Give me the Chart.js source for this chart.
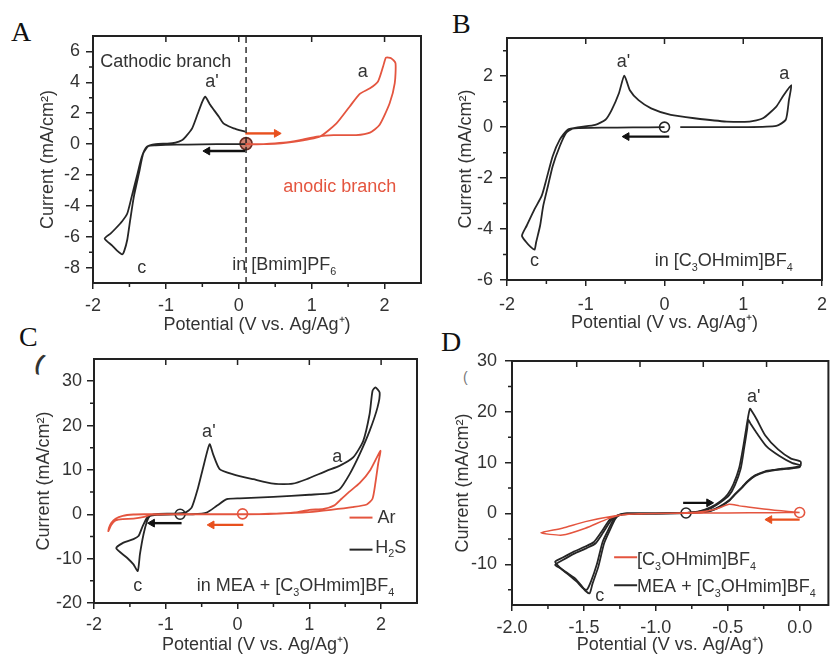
<!DOCTYPE html>
<html><head><meta charset="utf-8">
<script src="https://cdn.jsdelivr.net/npm/chart.js@4.4.1/dist/chart.umd.min.js"></script>
<style>
body{margin:0;width:830px;height:657px;overflow:hidden;background:#fff;position:relative}
canvas{position:absolute}
.let{position:absolute;font-family:'Liberation Serif','Times New Roman',serif;font-size:28px;line-height:28px;color:#111}
.art{position:absolute;font-family:'Liberation Sans',Arial,sans-serif;font-weight:bold;color:#333}
</style></head><body>
<div class="let" style="left:11px;top:18px">A</div>
<div class="let" style="left:452px;top:10px">B</div>
<div class="let" style="left:19px;top:323px">C</div>
<div class="let" style="left:441px;top:328px">D</div>
<div class="art" style="left:36px;top:352px;font-size:22px;line-height:22px;transform:rotate(20deg)">(</div>
<div class="art" style="left:463px;top:370px;font-size:14px;line-height:14px;color:#777;font-weight:normal">(</div>
<canvas id="cA" width="445" height="340" style="left:0;top:0"></canvas>
<canvas id="cB" width="420" height="340" style="left:415px;top:0"></canvas>
<canvas id="cC" width="440" height="327" style="left:0;top:330px"></canvas>
<canvas id="cD" width="415" height="327" style="left:420px;top:330px"></canvas>
<script>
// ---------- DATA ----------
// Panel A  (in [Bmim]PF6)
const A_cath_V = [0.1,-0.3,-0.7,-1.0,-1.14,-1.24,-1.31,-1.37,-1.44,-1.49,-1.53,-1.57,-1.60,-1.67,-1.74,-1.84,-1.76,-1.69,-1.60,-1.53,-1.47,-1.40,-1.33,-1.26,-1.14,-0.98,-0.87,-0.78,-0.73,-0.64,-0.57,-0.50,-0.46,-0.40,-0.34,-0.27,-0.21,-0.14,-0.07,0.09];
const A_cath_I = [0,-0.01,-0.03,-0.05,-0.08,-0.13,-0.6,-1.9,-3.42,-4.93,-6.2,-6.9,-7.14,-6.9,-6.56,-6.12,-5.8,-5.47,-5.0,-4.5,-3.42,-2.12,-0.82,-0.17,0.0,0.03,0.09,0.25,0.47,1.02,1.88,2.75,3.07,2.6,2.2,1.75,1.34,1.15,1.02,0.8];
const A_anod_V = [0.09,0.39,0.75,1.11,1.34,1.52,1.66,1.80,1.91,1.98,2.02,2.09,2.15,2.14,2.07,1.93,1.80,1.61,1.30,1.07,0.84,0.61,0.34,0.15];
const A_anod_I = [0,0.0,0.15,0.48,1.34,2.42,3.25,3.61,4.05,5.02,5.6,5.56,5.24,3.94,2.64,1.23,0.74,0.58,0.58,0.48,0.26,0.09,0.0,-0.02];
const A_xTicks = [-2,-1,0,1,2];
const A_yTicks = [-8,-6,-4,-2,0,2,4,6];

// Panel B  (in [C3OHmim]BF4)
const B_V = [0,-0.4,-0.8,-1.08,-1.17,-1.25,-1.33,-1.42,-1.48,-1.54,-1.58,-1.63,-1.65,-1.70,-1.76,-1.81,-1.75,-1.65,-1.56,-1.50,-1.42,-1.33,-1.23,-1.08,-0.88,-0.75,-0.67,-0.58,-0.51,-0.44,-0.33,-0.17,0.08,0.38,0.79,1.08,1.25,1.42,1.50,1.61,1.58,1.54,1.42,1.0,0.6,0.2];
const B_I = [0,-0.01,-0.02,-0.04,-0.06,-0.23,-0.75,-1.53,-2.31,-3.09,-3.87,-4.52,-4.81,-4.7,-4.5,-4.26,-3.87,-3.22,-2.70,-2.05,-1.14,-0.49,-0.1,0.0,0.09,0.29,0.68,1.32,2.02,1.45,1.06,0.74,0.48,0.35,0.22,0.22,0.35,0.81,1.19,1.65,1.06,0.29,0.05,0.0,0.0,0.0];
const B_xTicks = [-2,-1,0,1,2];
const B_yTicks = [-6,-4,-2,0,2];

// Panel C  (in MEA + [C3OHmim]BF4)
const C_H2S_V = [-0.8,-1.12,-1.22,-1.26,-1.31,-1.36,-1.39,-1.45,-1.54,-1.69,-1.59,-1.45,-1.38,-1.33,-1.26,-1.17,-0.89,-0.73,-0.64,-0.55,-0.48,-0.39,-0.34,-0.25,-0.06,0.22,0.5,0.77,0.96,1.24,1.42,1.61,1.75,1.84,1.88,1.92,1.98,1.95,1.84,1.70,1.56,1.42,1.28,1.0,0.5,0.03,-0.15,-0.29,-0.43,-0.62,-0.8];
const C_H2S_I = [0,-0.15,-0.4,-1.5,-4.5,-9.0,-12.8,-11.3,-9.8,-7.67,-6.4,-5.6,-4.9,-3.0,-0.75,0,0.15,0.38,1.5,6.0,10.5,15.8,13.5,10.2,9.0,7.9,6.9,6.9,7.9,9.8,10.9,12.8,16.5,22.6,27.8,28.6,27.4,24.1,18.8,13.5,9.0,5.6,4.7,4.4,3.9,3.6,3.4,1.9,0.38,0,0];
const C_Ar_V = [0.07,-0.5,-1.0,-1.2,-1.3,-1.45,-1.6,-1.7,-1.76,-1.8,-1.79,-1.76,-1.7,-1.6,-1.45,-1.3,-1.0,-0.5,0,0.5,0.8,1.0,1.2,1.35,1.45,1.55,1.7,1.85,1.99,1.96,1.92,1.88,1.8,1.6,1.3,1.0,0.6,0.3,0.07];
const C_Ar_I = [0,0,0,-0.1,-0.6,-1.0,-1.1,-1.4,-2.4,-3.8,-3.0,-2.0,-1.0,-0.35,-0.05,0,0,0,0,0.1,0.4,1.0,1.2,2.0,3.5,5.0,7.0,10.0,14.3,11.5,7.0,3.5,2.2,1.6,1.0,0.5,0.2,0.05,0];
const C_xTicks = [-2,-1,0,1,2];
const C_yTicks = [-20,-10,0,10,20,30];

// Panel D  (MEA + [C3OHmim]BF4, two cycles; [C3OHmim]BF4 alone)
const D_cyc1_V = [-0.79,-0.70,-0.62,-0.55,-0.50,-0.46,-0.42,-0.39,-0.37,-0.355,-0.345,-0.33,-0.30,-0.24,-0.15,-0.06,0.007,0.005,-0.05,-0.12,-0.175,-0.24,-0.31,-0.36,-0.40,-0.45,-0.49,-0.56,-0.65,-0.79,-1.00,-1.20,-1.25,-1.28,-1.32,-1.36,-1.40,-1.44,-1.46,-1.49,-1.52,-1.56,-1.61,-1.66,-1.70,-1.65,-1.56,-1.48,-1.42,-1.37,-1.31,-1.26,-1.20,-1.00,-0.79];
const D_cyc1_I = [0.1,0.4,1.2,2.4,3.8,5.8,9.0,13.5,17.0,19.5,20.6,20.0,18.6,15.4,12.6,10.8,10.2,9.4,9.0,8.8,8.6,8.3,7.5,6.4,5.2,3.8,2.6,1.3,0.3,0.1,0.0,-0.1,-0.3,-1.0,-3.3,-5.9,-10.5,-13.8,-15.7,-15.2,-14.1,-12.8,-11.8,-10.8,-10.1,-9.2,-7.8,-6.8,-5.9,-3.9,-1.3,-0.3,0.0,0.0,0.1];
const D_cyc2_V = [-0.79,-0.70,-0.62,-0.55,-0.49,-0.45,-0.41,-0.385,-0.365,-0.357,-0.34,-0.30,-0.23,-0.14,-0.05,0.005,0.0,-0.05,-0.12,-0.18,-0.24,-0.31,-0.36,-0.40,-0.45,-0.49,-0.56,-0.65,-0.79,-1.00,-1.20,-1.25,-1.29,-1.33,-1.37,-1.41,-1.45,-1.48,-1.51,-1.55,-1.60,-1.65,-1.70,-1.65,-1.57,-1.49,-1.43,-1.38,-1.32,-1.26,-1.20,-1.00,-0.79];
const D_cyc2_I = [0.1,0.35,1.0,2.2,3.6,5.6,8.8,13.0,16.6,18.4,17.6,15.9,13.2,11.3,9.9,9.5,9.1,8.9,8.7,8.5,8.2,7.4,6.3,5.1,3.7,2.5,1.2,0.3,0.1,0.0,-0.1,-0.3,-1.0,-3.2,-5.6,-10.0,-13.3,-15.0,-14.6,-13.4,-12.2,-11.1,-9.5,-8.7,-7.5,-6.5,-5.6,-3.7,-1.2,-0.3,0.0,0.0,0.1];
const D_IL_V = [0.0,-0.2,-0.5,-0.8,-1.0,-1.15,-1.27,-1.49,-1.65,-1.80,-1.65,-1.49,-1.33,-1.22,-1.1,-0.9,-0.7,-0.58,-0.49,-0.42,-0.36,-0.25,-0.175,-0.08,0.0];
const D_IL_I = [0.2,0.15,0.1,0.05,0,-0.1,-0.4,-1.6,-2.9,-3.8,-4.25,-2.9,-1.0,-0.2,-0.05,0.05,0.3,0.9,1.8,1.5,1.3,0.9,0.65,0.4,0.2];
const D_xTicks = [-2.0,-1.5,-1.0,-0.5,0.0];
const D_yTicks = [-10,0,10,20,30];
const D_xTopTicks = [-1.55,-1.11,-0.67,-0.23];

// ---------- helpers ----------
const BLK = '#262626', RED = '#e4553f';
Chart.defaults.font.family = "'Liberation Sans', Arial, sans-serif";
const xy = (xs, ys) => xs.map((v, i) => ({x: v, y: ys[i]}));
const halfway = t => t.slice(0, -1).map((v, i) => (v + t[i + 1]) / 2);
function curve(xs, ys, color, w) {
  return {data: xy(xs, ys), showLine: true, borderColor: color, borderWidth: w || 1.8, pointRadius: 0, tension: 0.2, fill: false};
}
function seg(x0, x1, y, color) {
  return {data: [{x: x0, y}, {x: x1, y}], showLine: true, borderColor: color, borderWidth: 2, pointRadius: 0, tension: 0};
}
function marker(x, y, color, fill, r, style) {
  return {data: [{x, y}], showLine: false, pointRadius: r || 5, pointStyle: style || 'circle',
          pointBorderColor: color, pointBackgroundColor: fill || '#fff', pointBorderWidth: 1.6};
}
function arrow(x0, x1, y, color) {
  const rot = x1 > x0 ? 90 : -90;
  return {data: [{x: x0, y}, {x: x1, y}], showLine: true, borderColor: color, borderWidth: 2.4, tension: 0,
          pointRadius: [0, 4.5], pointStyle: 'triangle', pointRotation: [0, rot],
          pointBackgroundColor: color, pointBorderColor: color, pointBorderWidth: 1};
}
function drawRich(ctx, x, y, parts, size, color, align) {
  const base = size + "px 'Liberation Sans', Arial, sans-serif";
  const small = (size * 0.6) + "px 'Liberation Sans', Arial, sans-serif";
  const segs = parts.map(p => typeof p === 'string' ? {t: p, m: ''} : {t: p[0], m: p[1]});
  let w = 0;
  segs.forEach(s => { ctx.font = s.m ? small : base; s.w = ctx.measureText(s.t).width; w += s.w; });
  let cx = align === 'center' ? x - w / 2 : (align === 'right' ? x - w : x);
  ctx.fillStyle = color; ctx.textBaseline = 'middle'; ctx.textAlign = 'left';
  segs.forEach(s => {
    ctx.font = s.m ? small : base;
    const dy = s.m === 'sub' ? size * 0.38 : (s.m === 'sup' ? -size * 0.38 : 0);
    ctx.fillText(s.t, cx, y + dy);
    cx += s.w;
  });
}
function decor(spec) {
  return {
    id: 'decor',
    afterDatasetsDraw(chart) {
      const {ctx, chartArea: a, scales: {x, y}} = chart;
      ctx.save();
      ctx.strokeStyle = '#222'; ctx.lineWidth = 2;
      ctx.strokeRect(a.left, a.top, a.right - a.left, a.bottom - a.top);
      ctx.lineWidth = 1.5; ctx.beginPath();
      spec.xMinor.forEach(v => { const p = x.getPixelForValue(v); ctx.moveTo(p, a.bottom); ctx.lineTo(p, a.bottom + 4); });
      spec.yMinor.forEach(v => { const p = y.getPixelForValue(v); ctx.moveTo(a.left, p); ctx.lineTo(a.left - 4, p); });
      spec.xTop.forEach(v => { const p = x.getPixelForValue(v); ctx.moveTo(p, a.top); ctx.lineTo(p, a.top + 6); });
      ctx.stroke();
      spec.notes.forEach(n => drawRich(ctx, x.getPixelForValue(n.x), y.getPixelForValue(n.y), n.parts, n.size || 18, n.color || '#333', n.align || 'left'));
      ctx.restore();
    }
  };
}
function makeChart(id, spec) {
  new Chart(document.getElementById(id), {
    type: 'scatter',
    data: {datasets: spec.datasets},
    options: {
      responsive: false, animation: false, events: [],
      layout: {padding: {left: 0, top: spec.padTop, right: spec.padRight, bottom: 0}},
      plugins: {legend: {display: false}, tooltip: {enabled: false}},
      scales: {
        x: {type: 'linear', min: spec.xMin, max: spec.xMax,
            afterBuildTicks: s => { s.ticks = spec.xTicks.map(v => ({value: v})); },
            afterFit: s => { s.height = spec.xAxisH; },
            ticks: {autoSkip: false, maxRotation: 0, color: '#333', font: {size: 18}, padding: spec.xTickPad,
                    callback: v => spec.xFmt ? Number(v).toFixed(spec.xFmt) : String(v)},
            grid: {display: true, drawOnChartArea: false, drawTicks: true, tickLength: 6, tickWidth: 1.5, lineWidth: 1.5, tickColor: '#222'},
            border: {display: false},
            title: {display: true, text: 'Potential (V vs. Ag/Ag\u207A)', color: '#333', font: {size: 18}, padding: {top: 0, bottom: spec.xTitlePad}}},
        y: {type: 'linear', min: spec.yMin, max: spec.yMax,
            afterBuildTicks: s => { s.ticks = spec.yTicks.map(v => ({value: v})); },
            afterFit: s => { s.width = spec.yAxisW; },
            ticks: {autoSkip: false, color: '#333', font: {size: 18}, padding: spec.yTickPad, callback: v => String(v)},
            grid: {display: true, drawOnChartArea: false, drawTicks: true, tickLength: 7, tickWidth: 1.5, lineWidth: 1.5, tickColor: '#222'},
            border: {display: false},
            title: {display: true, text: 'Current (mA/cm\u00B2)', color: '#333', font: {size: 18}, padding: {top: spec.yTitlePad, bottom: 0}}}
      }
    },
    plugins: [decor(spec)]
  });
}

// ---------- Panel A ----------
makeChart('cA', {
  xMin: -2, xMax: 2.5, yMin: -9, yMax: 7, xTicks: A_xTicks, yTicks: A_yTicks,
  xMinor: halfway(A_xTicks), yMinor: halfway(A_yTicks),
  xTop: A_xTicks.slice(1),
  padTop: 36, padRight: 24, yAxisW: 93, xAxisH: 57, xTitlePad: 4, yTitlePad: 37,
  xTickPad: 6, yTickPad: 6,
  datasets: [
    {data: [{x: 0.1, y: -9}, {x: 0.1, y: 7}], showLine: true, borderColor: '#222', borderWidth: 1.4, borderDash: [6, 4], pointRadius: 0},
    curve(A_anod_V, A_anod_I, RED),
    curve(A_cath_V, A_cath_I, BLK),
    arrow(0.09, 0.52, 0.69, '#e8501e'),
    arrow(0.09, -0.43, -0.45, '#111'),
    marker(0.1, 0.03, '#6b2b22', 'rgba(205,115,95,0.9)', 6),
    marker(0.1, 0.03, '#6b2b22', '#6b2b22', 4, 'cross')
  ],
  notes: [
    {x: -1.90, y: 5.3, parts: ['Cathodic branch']},
    {x: -0.46, y: 4.0, parts: ["a'"]},
    {x: 1.70, y: 4.67, parts: ['a'], align: 'center'},
    {x: -1.33, y: -8.05, parts: ['c'], align: 'center'},
    {x: -0.09, y: -7.86, parts: ['in [Bmim]PF', ['6', 'sub']]},
    {x: 0.61, y: -2.8, parts: ['anodic branch'], color: RED}
  ]
});

// ---------- Panel B ----------
makeChart('cB', {
  xMin: -2, xMax: 2, yMin: -6, yMax: 3.5, xTicks: B_xTicks, yTicks: B_yTicks,
  xMinor: halfway(B_xTicks), yMinor: halfway(B_yTicks).concat([3]),
  xTop: B_xTicks.slice(1, 4),
  padTop: 38, padRight: 7, yAxisW: 92, xAxisH: 60, xTitlePad: 6, yTitlePad: 40,
  xTickPad: 8, yTickPad: 7,
  datasets: [
    curve(B_V, B_I, BLK),
    arrow(0.06, -0.48, -0.37, '#111'),
    marker(0, 0, BLK, '#fff', 5)
  ],
  notes: [
    {x: -0.52, y: 2.56, parts: ["a'"], align: 'center'},
    {x: 1.52, y: 2.08, parts: ['a'], align: 'center'},
    {x: -1.65, y: -5.27, parts: ['c'], align: 'center'},
    {x: -0.125, y: -5.26, parts: ['in [C', ['3', 'sub'], 'OHmim]BF', ['4', 'sub']]}
  ]
});

// ---------- Panel C ----------
makeChart('cC', {
  xMin: -2, xMax: 2.5, yMin: -20, yMax: 35, xTicks: C_xTicks, yTicks: C_yTicks,
  xMinor: halfway(C_xTicks), yMinor: halfway(C_yTicks),
  xTop: C_xTicks.slice(1),
  padTop: 29, padRight: 23, yAxisW: 94, xAxisH: 54, xTitlePad: 1, yTitlePad: 33,
  xTickPad: 5, yTickPad: 5,
  datasets: [
    curve(C_Ar_V, C_Ar_I, RED),
    curve(C_H2S_V, C_H2S_I, BLK),
    arrow(0.08, -0.36, -2.4, '#e8501e'),
    arrow(-0.78, -1.19, -2.0, '#111'),
    marker(-0.8, 0, BLK, '#fff', 5),
    marker(0.07, 0.1, RED, '#fff', 5),
    seg(1.56, 1.88, -0.75, RED),
    seg(1.56, 1.88, -7.97, BLK)
  ],
  notes: [
    {x: -0.40, y: 18.6, parts: ["a'"], align: 'center'},
    {x: 1.39, y: 13.0, parts: ['a'], align: 'center'},
    {x: -1.39, y: -16.2, parts: ['c'], align: 'center'},
    {x: -0.57, y: -16.2, parts: ['in MEA + [C', ['3', 'sub'], 'OHmim]BF', ['4', 'sub']]},
    {x: 1.95, y: -0.9, parts: ['Ar']},
    {x: 1.92, y: -7.5, parts: ['H', ['2', 'sub'], 'S']}
  ]
});

// ---------- Panel D ----------
makeChart('cD', {
  xMin: -2, xMax: 0.2, yMin: -18, yMax: 30, xTicks: D_xTicks, yTicks: D_yTicks, xFmt: 1,
  xMinor: halfway(D_xTicks), yMinor: [-15].concat(halfway(D_yTicks)),
  xTop: D_xTopTicks,
  padTop: 31, padRight: 0, yAxisW: 92, xAxisH: 52, xTitlePad: 1, yTitlePad: 32,
  xTickPad: 6, yTickPad: 8,
  datasets: [
    curve(D_IL_V, D_IL_I, RED, 1.5),
    curve(D_cyc2_V, D_cyc2_I, BLK),
    curve(D_cyc1_V, D_cyc1_I, BLK),
    arrow(-0.81, -0.63, 2.1, '#111'),
    arrow(0.0, -0.21, -1.2, '#e8501e'),
    marker(-0.79, 0.1, BLK, '#fff', 5),
    marker(0.0, 0.2, RED, '#fff', 5),
    seg(-1.29, -1.13, -8.6, RED),
    seg(-1.29, -1.13, -14.1, BLK)
  ],
  notes: [
    {x: -0.32, y: 22.9, parts: ["a'"], align: 'center'},
    {x: -1.39, y: -16.2, parts: ['c'], align: 'center'},
    {x: -1.13, y: -9.2, parts: ['[C', ['3', 'sub'], 'OHmim]BF', ['4', 'sub']]},
    {x: -1.13, y: -14.4, parts: ['MEA + [C', ['3', 'sub'], 'OHmim]BF', ['4', 'sub']]}
  ]
});
</script>
</body></html>
